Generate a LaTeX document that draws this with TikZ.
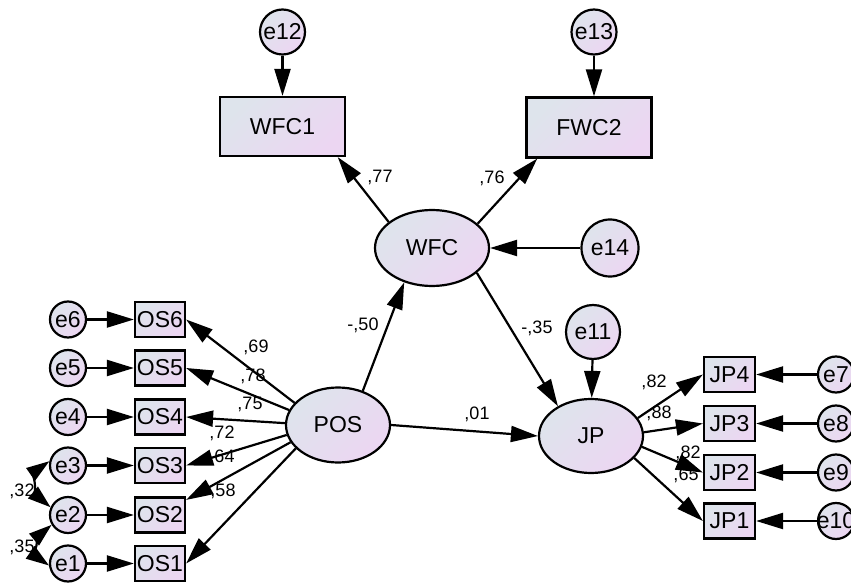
\documentclass[tikz,border=0pt]{standalone}
\usepackage{fontspec}
\setmainfont{Liberation Sans}
\usetikzlibrary{shapes.geometric,arrows.meta}
\definecolor{gA}{RGB}{222,228,236}
\definecolor{gB}{RGB}{236,214,242}
\newcommand\ctxt[1]{\makebox[0pt]{#1}}
\begin{document}
\begin{tikzpicture}[x=1pt,y=1pt,
  every node/.style={font=\fontsize{23}{23}\selectfont},
  grad/.style={top color=gA, bottom color=gB, shading angle=45, draw=black, line width=2.2pt},
  lat/.style={grad, ellipse, inner sep=0pt},
  obs/.style={grad, rectangle, inner sep=0pt},
  err/.style={grad, circle, inner sep=0pt},
  lbl/.style={font=\fontsize{18}{18}\selectfont, inner sep=0pt},
  arr/.style={line width=2.2pt, -{Triangle[length=27pt,width=16pt]}},
  cov/.style={line width=2.2pt, {Triangle[length=23pt,width=15pt]}-{Triangle[length=23pt,width=15pt]}},
]
\useasboundingbox (0,0) rectangle (851,-585);

% latent variables
\node[lat, minimum width=114pt, minimum height=76pt] (WFC) at (432,-248) {WFC};
\node[lat, minimum width=104pt, minimum height=75pt] (POS) at (338,-425) {POS};
\node[lat, minimum width=104pt, minimum height=74pt] (JP) at (591,-436) {JP};

% top indicators
\node[obs, minimum width=125pt, minimum height=59pt] (WFC1) at (282.5,-126.5) {WFC1};
\node[obs, minimum width=125pt, minimum height=60pt] (FWC2) at (589,-127.5) {FWC2};
\node[err, minimum size=45pt] (e12) at (282.5,-32) {\ctxt{e12}};
\node[err, minimum size=45pt] (e13) at (594,-32) {\ctxt{e13}};
\node[err, minimum size=57pt] (e14) at (610,-248) {\ctxt{e14}};
\node[err, minimum size=54pt] (e11) at (593,-332) {\ctxt{e11}};

% OS indicators
\foreach \n/\y in {6/319.5,5/368,4/417,3/465.5,2/515,1/563.5}{
  \node[obs, minimum width=50pt, minimum height=35pt] (OS\n) at (160,-\y) {OS\n};
  \node[err, minimum size=36pt] (e\n) at (68,-\y) {\ctxt{e\n}};
}
% JP indicators
\foreach \n/\e/\y in {4/7/374.5,3/8/423.5,2/9/472.5,1/10/521}{
  \node[obs, minimum width=51pt, minimum height=35pt] (JP\n) at (729.5,-\y) {JP\n};
  \node[err, minimum size=36pt] (e\e) at (836,-\y) {\ctxt{e\e}};
}

% labels
\node[lbl] (l77) at (380,-177) {,77};
\node[lbl] (l76) at (492,-178) {,76};
\node[lbl] (l50) at (363,-325) {-,50};
\node[lbl] (l35b) at (537,-328) {-,35};
\node[lbl] (l01) at (477,-414) {,01};
\node[lbl] (l69) at (256,-347) {,69};
\node[lbl] (l78) at (253,-376) {,78};
\node[lbl] (l75) at (250,-404) {,75};
\node[lbl] (l72) at (222,-433) {,72};
\node[lbl] (l64) at (222,-457) {,64};
\node[lbl] (l58) at (223,-491) {,58};
\node[lbl] (l82a) at (654,-382) {,82};
\node[lbl] (l88) at (659,-413) {,88};
\node[lbl] (l82b) at (688,-453) {,82};
\node[lbl] (l65) at (686,-475) {,65};
\node[lbl] (l32) at (22,-491) {,32};
\node[lbl] (l35) at (22,-547) {,35};

% structural paths
\draw[arr] (e12.south) -- (WFC1.north);
\draw[arr] (e13.south) -- (e13.south |- FWC2.north);
\draw[arr] (WFC.149) -- (WFC1.-29);
\draw[arr] (WFC.28) -- (FWC2.211);
\draw[arr] (e14.west) -- (WFC.east);
\draw[arr] (POS.54) -- (WFC.231);
\draw[arr] (WFC.-29) -- (JP.138);
\draw[arr] (e11) -- (JP);
\draw[arr] (POS.east) -- (JP.west);

% POS loadings
\draw[arr] (POS.153) -- (OS6.east);
\draw[arr] (POS.163) -- (OS5.east);
\draw[arr] (POS.178) -- (OS4.east);
\draw[arr] (POS.191) -- (OS3.east);
\draw[arr] (POS.200) -- (OS2.30);
\draw[arr] (POS.209) -- (OS1.east);

% JP loadings
\draw[arr] (JP.21) -- (JP4.west);
\draw[arr] (JP.4) -- (JP3.west);
\draw[arr] (JP.-12) -- (JP2.west);
\draw[arr] (JP.-27) -- (JP1.west);

% errors
\foreach \n in {1,...,6}{ \draw[arr] (e\n.east) -- (OS\n.west); }
\draw[arr] (e7.west) -- (JP4.east);
\draw[arr] (e8.west) -- (JP3.east);
\draw[arr] (e9.west) -- (JP2.east);
\draw[arr] (e10.west) -- (JP1.east);

% covariances
\draw[cov] (e3.167) to[out=215,in=140] (e2.156);
\draw[cov] (e2.211) to[out=220,in=145] (e1.186);
\end{tikzpicture}
\end{document}
